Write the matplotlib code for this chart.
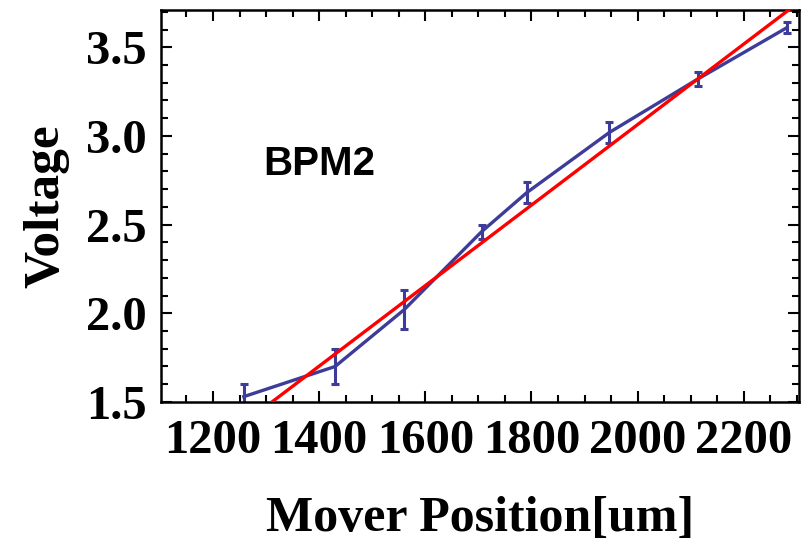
import matplotlib.pyplot as plt
from matplotlib.ticker import MultipleLocator

# Mover position [um], measured voltage and its error
position = [1258, 1430, 1560, 1706, 1791, 1947, 2113, 2281]
voltage = [1.53, 1.70, 2.02, 2.46, 2.68, 3.02, 3.32, 3.61]
voltage_err = [0.07, 0.10, 0.11, 0.04, 0.06, 0.06, 0.04, 0.03]

# Linear fit (red line)
fit_slope = 0.00227
fit_intercept = -1.476
fit_x = [1100, 2310]

fig = plt.figure(figsize=(8.05, 5.41), dpi=100)
ax = fig.add_axes([0.2, 0.257, 0.7925, 0.7245])

fit_v = [fit_slope * x + fit_intercept for x in fit_x]
ax.plot(fit_x, fit_v, color='#ff0000', linewidth=2.4, zorder=3)
ax.errorbar(position, voltage, yerr=voltage_err, color='#3d3d99', linewidth=2.4,
            elinewidth=2.2, capsize=3, capthick=2.2, zorder=2)

ax.set_xlim(1102, 2304)
ax.set_ylim(1.5, 3.71)

ax.xaxis.set_major_locator(MultipleLocator(200))
ax.xaxis.set_minor_locator(MultipleLocator(50))
ax.yaxis.set_major_locator(MultipleLocator(0.5))
ax.yaxis.set_minor_locator(MultipleLocator(0.1))
ax.yaxis.set_major_formatter(plt.FormatStrFormatter('%.1f'))

ax.tick_params(which='both', direction='in', top=True, right=True, width=1.5)
ax.tick_params(which='major', length=8)
ax.tick_params(which='minor', length=5)
ax.tick_params(axis='x', which='major', pad=12)
ax.tick_params(axis='y', which='major', pad=10)
for lab in ax.get_xticklabels() + ax.get_yticklabels():
    lab.set_fontfamily('Liberation Serif')
    lab.set_fontweight('bold')
    lab.set_fontsize(35)
for s in ax.spines.values():
    s.set_linewidth(1.8)

ax.set_xlabel('Mover Position[um]', fontfamily='Liberation Serif', fontweight='bold',
              fontsize=36, labelpad=24)
ax.set_ylabel('Voltage', fontfamily='Liberation Serif', fontweight='bold',
              fontsize=37, labelpad=12)

ax.text(0.16, 0.58, 'BPM2', transform=ax.transAxes, fontfamily='Liberation Sans',
        fontweight='bold', fontsize=29, color='black')

plt.savefig('out.png', dpi=100)
